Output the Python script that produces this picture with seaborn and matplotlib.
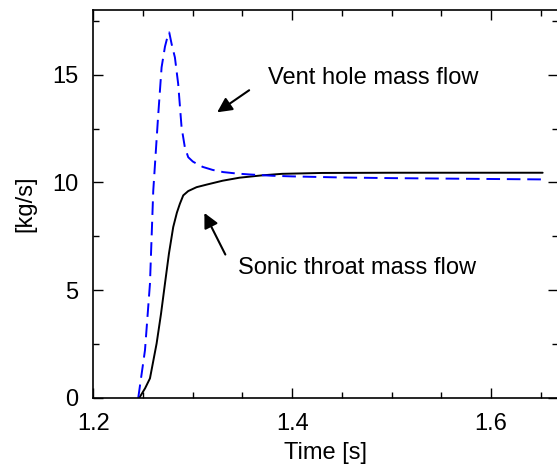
import matplotlib
matplotlib.use("Agg")
import matplotlib.pyplot as plt
import seaborn as sns
import pandas as pd
from matplotlib.ticker import MultipleLocator

vent_t = [1.2451, 1.2519, 1.2569, 1.2602, 1.2650, 1.2686, 1.2720, 1.2745, 1.2763, 1.2787, 1.282,
          1.2853, 1.2887, 1.292, 1.2954, 1.300, 1.3038, 1.310, 1.320, 1.3306, 1.345, 1.357,
          1.38, 1.40, 1.45, 1.50, 1.55, 1.60, 1.652]
vent_m = [0.0, 2.22, 5.31, 9.6, 13.0, 15.34, 16.30, 16.75, 16.96, 16.42, 15.8,
          14.57, 12.56, 11.63, 11.17, 10.97, 10.87, 10.72, 10.58, 10.48, 10.41, 10.37,
          10.31, 10.28, 10.23, 10.20, 10.18, 10.16, 10.14]

sonic_t = [1.2461, 1.2520, 1.2569, 1.2636, 1.268, 1.272, 1.276, 1.2803, 1.2840, 1.287, 1.2904,
           1.2954, 1.3038, 1.314, 1.330, 1.347, 1.37, 1.39, 1.43, 1.50, 1.55, 1.60, 1.652]
sonic_m = [0.0, 0.45, 0.91, 2.53, 3.9, 5.31, 6.7, 7.93, 8.6, 9.01, 9.40,
           9.60, 9.78, 9.90, 10.08, 10.22, 10.33, 10.40, 10.44, 10.45, 10.45, 10.45, 10.45]

sns.set_style("ticks")
plt.rcParams['font.family'] = ['Liberation Sans', 'DejaVu Sans']
plt.rcParams['text.color'] = 'black'
plt.rcParams['axes.labelcolor'] = 'black'
plt.rcParams['xtick.color'] = 'black'
plt.rcParams['ytick.color'] = 'black'

fig = plt.figure(figsize=(5.57, 4.69), dpi=100)
ax = fig.add_axes([0.1677, 0.1514, 0.8333, 0.8273])

df_v = pd.DataFrame({"t": vent_t, "m": vent_m})
df_s = pd.DataFrame({"t": sonic_t, "m": sonic_m})
sns.lineplot(data=df_s, x="t", y="m", ax=ax, color="black", lw=1.4, sort=False)
sns.lineplot(data=df_v, x="t", y="m", ax=ax, color="#0000ff", lw=1.4, sort=False)
ax.lines[-1].set_dashes([7, 3.5])

ax.set_xlim(1.2, 1.667)
ax.set_ylim(0, 18)
ax.xaxis.set_minor_locator(MultipleLocator(0.05))
ax.yaxis.set_minor_locator(MultipleLocator(2.5))
ax.set_xticks([1.2, 1.4, 1.6])
ax.set_xticklabels(["1.2", "1.4", "1.6"])
ax.set_yticks([0, 5, 10, 15])
ax.set_yticklabels(["0", "5", "10", "15"])
ax.tick_params(which="both", direction="in", top=True, right=True, labelsize=17,
               color="black", width=1)
ax.tick_params(which="major", length=7, pad=11)
ax.tick_params(which="minor", length=4)
for s in ax.spines.values():
    s.set_color("black")
    s.set_linewidth(1.2)

ax.set_xlabel("Time [s]", fontsize=17, labelpad=5)
ax.set_ylabel("[kg/s]", fontsize=17, labelpad=11)

ax.annotate("", xy=(1.3222, 13.18), xytext=(1.359, 14.35),
            arrowprops=dict(arrowstyle="-|>", color="black", lw=1.5, mutation_scale=22))
ax.text(1.3757, 14.86, "Vent hole mass flow", fontsize=17, va="center", ha="left")
ax.annotate("", xy=(1.3104, 8.70), xytext=(1.334, 6.54),
            arrowprops=dict(arrowstyle="-|>", color="black", lw=1.5, mutation_scale=22))
ax.text(1.3453, 6.02, "Sonic throat mass flow", fontsize=17, va="center", ha="left")

fig.savefig("out.png", dpi=100)
